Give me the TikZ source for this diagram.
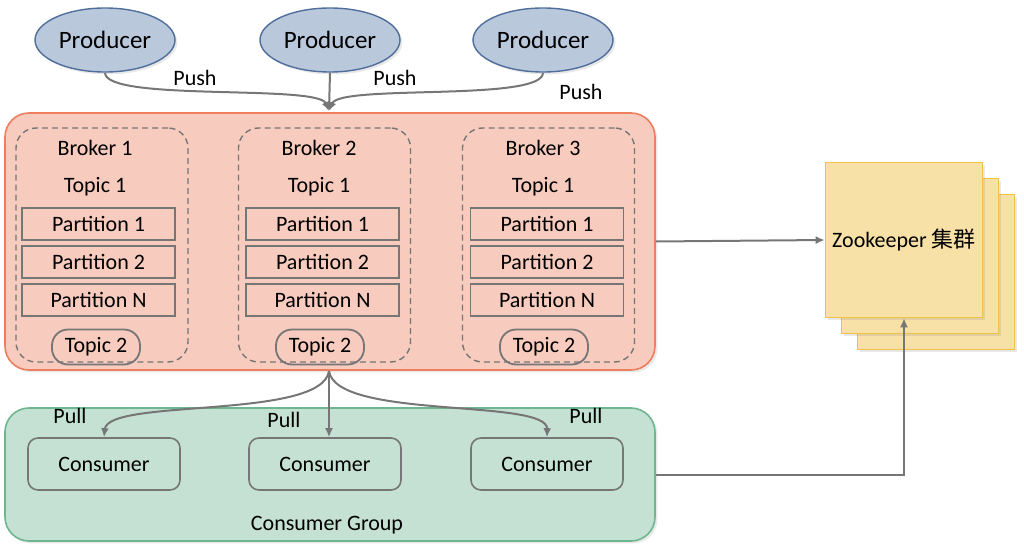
\documentclass[tikz,border=0pt]{standalone}
\usepackage{fontspec}
\setmainfont{Carlito}
\newfontfamily\cjk{Noto Sans CJK SC}
\usetikzlibrary{arrows.meta,shapes.geometric,shadows}
\definecolor{prodfill}{HTML}{BAC8DB}
\definecolor{prodline}{HTML}{4F6E9C}
\definecolor{brokfill}{HTML}{F8CBBF}
\definecolor{brokline}{HTML}{EE7E5E}
\definecolor{consfill}{HTML}{C5E1D3}
\definecolor{consline}{HTML}{6DB68F}
\definecolor{zkfill}{HTML}{F8E1A6}
\definecolor{zkline}{HTML}{F0C24A}
\definecolor{boxline}{HTML}{767676}

\begin{document}
\begin{tikzpicture}[x=0.5pt,y=-0.5pt,>={Latex[length=4.5pt,width=4pt]},
  txt/.style={font=\fontsize{11}{13}\selectfont},
  lbl/.style={txt,inner sep=1pt},
  shade/.style={drop shadow={opacity=0.18,shadow xshift=1.2pt,shadow yshift=-1.2pt}},
  producer/.style={ellipse,draw=prodline,fill=prodfill,line width=0.7pt,shade,
    minimum width=70pt,minimum height=32pt,inner sep=0pt,font=\fontsize{12.5}{14}\selectfont},
  cluster/.style={rectangle,rounded corners=12pt,line width=0.8pt,shade,inner sep=0pt},
  brokerbox/.style={rectangle,rounded corners=10pt,draw=boxline,dashed,dash pattern=on 3pt off 2pt,
    line width=0.7pt,minimum width=86pt,minimum height=117pt,inner sep=0pt},
  partition/.style={rectangle,draw=boxline,line width=0.9pt,txt,
    minimum width=76.5pt,minimum height=16pt,inner sep=0pt},
  topicpill/.style={rectangle,rounded corners=8pt,draw=boxline,line width=0.9pt,txt,
    minimum width=44pt,minimum height=17.5pt,inner sep=0pt},
  consumer/.style={rectangle,rounded corners=5pt,draw=boxline,line width=0.8pt,txt,
    minimum width=76pt,minimum height=26pt,inner sep=0pt},
  zkbox/.style={rectangle,draw=zkline,fill=zkfill,line width=0.8pt,shade,txt,
    minimum width=78.5pt,minimum height=77.5pt,inner sep=0pt},
  flow/.style={->,draw=boxline,line width=1pt}]
  \useasboundingbox (0,0) rectangle (1024,551);

  \node[producer] (prodA) at (105,40) {Producer};   %Producers
  \node[producer] (prodB) at (330,40) {Producer};
  \node[producer] (prodC) at (543,40) {Producer};
  \node[lbl] (pushA) at (195,78) {Push};
  \node[lbl] (pushB) at (395,78) {Push};
  \node[lbl] (pushC) at (581,92) {Push};

  \node[cluster,draw=brokline,fill=brokfill,minimum width=325pt,minimum height=128.5pt]
    (brokers) at (330,241.5) {};                      %Broker cluster
  \coordinate (pushin) at (329,111);
  \coordinate (pullout) at (329,371);

  \node[brokerbox] (brokA) at (102,245) {};          %Broker 1
  \node[lbl] (brokAname) at (95,148) {Broker 1};
  \node[lbl] (brokAtopic) at (95,187) {Topic 1};
  \node[partition] (brokApA) at (98.5,224) {Partition 1};
  \node[partition] (brokApB) at (98.5,262) {Partition 2};
  \node[partition] (brokApN) at (98.5,300) {Partition N};
  \node[topicpill] (brokAtwo) at (96,347) {Topic 2};

  \node[brokerbox] (brokB) at (324.5,245) {};        %Broker 2
  \node[lbl] (brokBname) at (319,148) {Broker 2};
  \node[lbl] (brokBtopic) at (319,187) {Topic 1};
  \node[partition] (brokBpA) at (322.5,224) {Partition 1};
  \node[partition] (brokBpB) at (322.5,262) {Partition 2};
  \node[partition] (brokBpN) at (322.5,300) {Partition N};
  \node[topicpill] (brokBtwo) at (320,347) {Topic 2};

  \node[brokerbox] (brokC) at (548.5,245) {};        %Broker 3
  \node[lbl] (brokCname) at (543,148) {Broker 3};
  \node[lbl] (brokCtopic) at (543,187) {Topic 1};
  \node[partition] (brokCpA) at (547,224) {Partition 1};
  \node[partition] (brokCpB) at (547,262) {Partition 2};
  \node[partition] (brokCpN) at (547,300) {Partition N};
  \node[topicpill] (brokCtwo) at (544,347) {Topic 2};

  \node[cluster,draw=consline,fill=consfill,minimum width=325pt,minimum height=66.5pt]
    (group) at (330,474.5) {};                        %Consumer group
  \node[consumer] (consA) at (104,464) {Consumer};
  \node[consumer] (consB) at (325,464) {Consumer};
  \node[consumer] (consC) at (547,464) {Consumer};
  \node[lbl] (grouplbl) at (327,525) {Consumer Group};
  \node[lbl] (pullA) at (70,416) {Pull};
  \node[lbl] (pullB) at (284,420) {Pull};
  \node[lbl] (pullC) at (586,416) {Pull};

  \node[zkbox] (zkC) at (936,272) {};                %Zookeeper stack
  \node[zkbox] (zkB) at (920,256) {};
  \node[zkbox] (zk) at (904,240) {Zookeeper {\cjk 集群}};

  \draw[flow] (prodA.south) .. controls (105,102) and (318,84) .. (pushin);
  \draw[flow] (prodB.south) -- (pushin);
  \draw[flow] (prodC.south) .. controls (543,102) and (340,84) .. (pushin);

  \draw[flow] (pullout) .. controls (322,420) and (108,398) .. (consA.north);
  \draw[flow] (pullout) -- (pullout |- consB.north);
  \draw[flow] (pullout) .. controls (336,420) and (548,398) .. (consC.north);

  \draw[flow] (brokers.east) -- (zk.west);
  \draw[flow] (group.east) -| (zk.south);
\end{tikzpicture}
\end{document}
